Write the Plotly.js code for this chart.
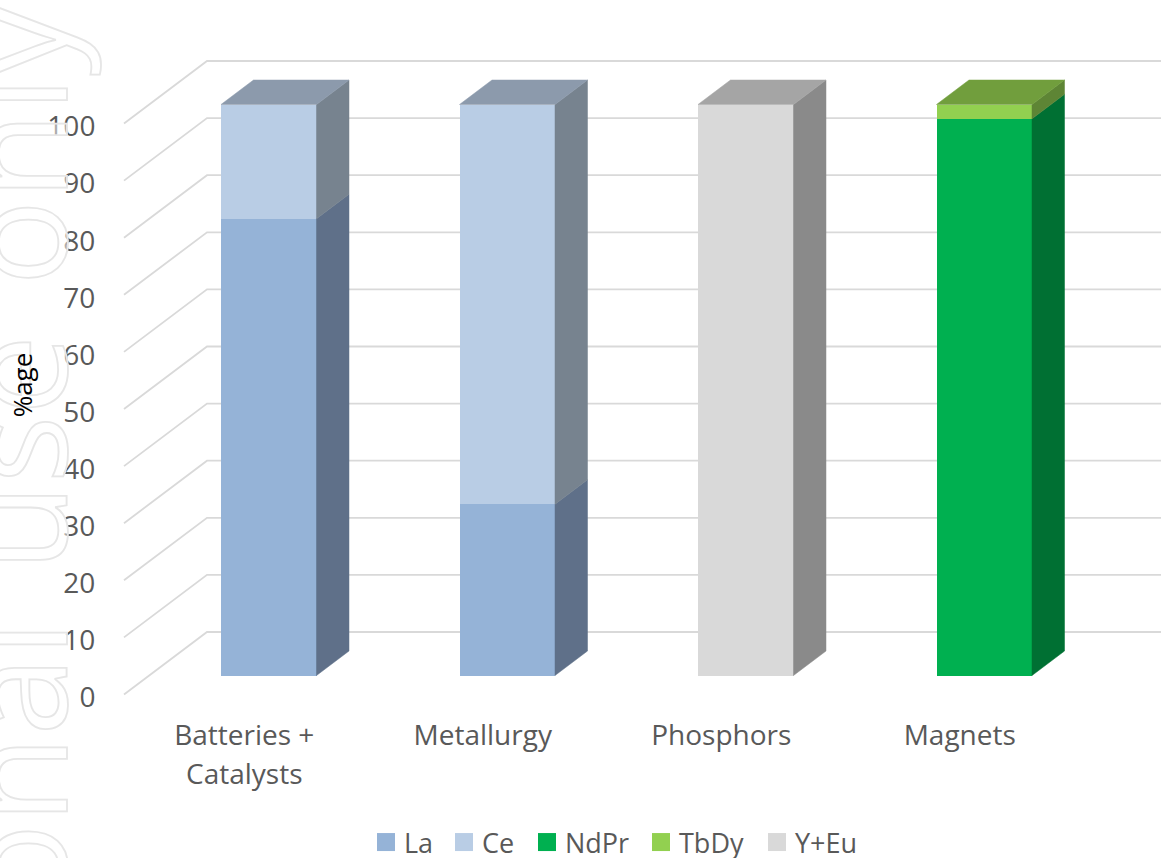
<!DOCTYPE html>
<html>
<head>
<meta charset="utf-8">
<script src="https://cdn.plot.ly/plotly-3.0.1.min.js"></script>
<style>
html,body{margin:0;padding:0;background:#fff;overflow:hidden}
#chart{width:1166px;height:858px}
.annotation[data-index="0"] text{stroke:#e6e6e6;stroke-width:1.8px;word-spacing:12px}
</style>
</head>
<body>
<div id="chart"></div>
<script>
// ---------- data ----------
const categories = ["Batteries +<br>Catalysts", "Metallurgy", "Phosphors", "Magnets"];
const La   = [80, 30, 0, 0];
const Ce   = [20, 70, 0, 0];
const NdPr = [0, 0, 0, 97.5];
const TbDy = [0, 0, 0, 2.5];
const YEu  = [0, 0, 100, 0];
const tickValues = [0, 10, 20, 30, 40, 50, 60, 70, 80, 90, 100];

// ---------- styling ----------
const seriesDefs = [
  {name: "La",   values: La,   front: "#95B3D7", side: "#5F7089", top: "#788CA4"},
  {name: "Ce",   values: Ce,   front: "#B9CDE5", side: "#77838F", top: "#8C9AAC"},
  {name: "NdPr", values: NdPr, front: "#00B050", side: "#007033", top: "#008A3E"},
  {name: "TbDy", values: TbDy, front: "#92D050", side: "#5E8535", top: "#719E3D"},
  {name: "Y+Eu", values: YEu,  front: "#D9D9D9", side: "#8A8A8A", top: "#A5A5A5"}
];

// ---------- geometry of the pseudo-3D projection (pixels -> axis units) ----------
const W = 1166, H = 858, mL = 103, mB = 88;
const pxPerCat = 238.5, pxPerVal = 5.71;
const cat0Px = 244.25;          // pixel of category 0 tick label
const plotBottomPx = H - mB;
const axisLinePx = 700;         // where the category labels hang from
const xOf = px => (px - cat0Px) / pxPerCat;
const labelZeroPx = 694.5;      // value 0 on the label plane
const barZeroPx = 675.5;        // value 0 on the bar front plane
const barOffset = xOf(221) ;    // left edge of bar relative to category
const barWidth = 95.5 / pxPerCat;
const depthX = 32.5 / pxPerCat, depthY = 24.5 / pxPerVal;
const wallDy = (labelZeroPx - 632) / pxPerVal;
const legendSwatchLeft = [377, 455, 538, 652, 768];

const traces = [];
// front faces: stacked bars
seriesDefs.forEach(s => {
  traces.push({
    type: "bar", name: s.name, x: categories.map((_, i) => i), y: s.values,
    xaxis: "x", yaxis: "y2", width: barWidth, offset: barOffset,
    marker: {color: s.front, line: {width: 0}}, legendgroup: s.name,
    hoverinfo: "name+y"
  });
});
// side and top faces, derived from the same values
const cum = categories.map(() => 0);
const highest = categories.map((_, i) => {
  let top = null;
  seriesDefs.forEach((s, k) => { if (s.values[i] > 0) top = k; });
  return top;
});
seriesDefs.forEach((s, k) => {
  const sx = [], sy = [], tx = [], ty = [];
  s.values.forEach((v, i) => {
    if (v <= 0) return;
    const b = cum[i], t = b + v, xl = i + barOffset, xr = xl + barWidth;
    sx.push(xr, xr + depthX, xr + depthX, xr, xr, null);
    sy.push(b, b + depthY, t + depthY, t, b, null);
    if (highest[i] === k) {
      tx.push(xl, xl + depthX, xr + depthX, xr, xl, null);
      ty.push(t, t + depthY, t + depthY, t, t, null);
    }
    cum[i] = t;
  });
  [[sx, sy, s.side], [tx, ty, s.top]].forEach(([px, py, col]) => {
    if (!px.length) return;
    traces.push({
      type: "scatter", mode: "lines", x: px, y: py, xaxis: "x", yaxis: "y2",
      fill: "toself", fillcolor: col, line: {color: col, width: 0.5},
      showlegend: false, hoverinfo: "skip", legendgroup: s.name
    });
  });
});

// gridlines on floor and back wall, below the bars
const gridShapes = tickValues.map(v => ({
  type: "path", layer: "below", xref: "x", yref: "y",
  path: `M ${xOf(124)} ${v} L ${xOf(207)} ${v + wallDy} L ${xOf(1161)} ${v + wallDy}`,
  line: {color: "#D9D9D9", width: 1.8}
}));

const layout = {
  width: W, height: H, showlegend: true, barmode: "stack",
  paper_bgcolor: "#fff", plot_bgcolor: "rgba(0,0,0,0)",
  margin: {l: mL, r: 0, t: 0, b: mB, pad: 0, autoexpand: false},
  font: {family: "'Open Sans', sans-serif", color: "#595959", size: 27},
  xaxis: {
    type: "linear", range: [xOf(mL), xOf(W)], showgrid: false, zeroline: false, showline: false,
    anchor: "free", position: (plotBottomPx - axisLinePx) / plotBottomPx,
    tickmode: "array", tickvals: categories.map((_, i) => i), ticktext: categories,
    ticks: "outside", ticklen: 10, tickcolor: "rgba(0,0,0,0)", tickfont: {size: 28}
  },
  yaxis: {
    range: [(labelZeroPx - plotBottomPx) / pxPerVal, labelZeroPx / pxPerVal],
    tickmode: "array", tickvals: tickValues, showgrid: false, zeroline: false, showline: false,
    ticks: "outside", ticklen: 1, tickcolor: "rgba(0,0,0,0)", tickfont: {size: 28}, ticklabelshift: 3,
    title: {text: "%age", font: {size: 26, color: "#000000"}, standoff: 7}
  },
  yaxis2: {
    overlaying: "y", side: "left", visible: false,
    range: [(barZeroPx - plotBottomPx) / pxPerVal, barZeroPx / pxPerVal]
  },
  legend: {
    orientation: "h", xanchor: "left", yanchor: "top",
    x: (366 - mL) / (W - mL), y: (plotBottomPx - 818) / plotBottomPx,
    font: {size: 27, color: "#595959"}, traceorder: "normal", itemclick: false, itemdoubleclick: false
  },
  shapes: gridShapes,
  annotations: [{
    text: "Personal use only", xref: "paper", yref: "paper", showarrow: false, textangle: -90,
    x: (110 - mL) / (W - mL), xanchor: "right",
    y: (plotBottomPx - 15) / plotBottomPx, yanchor: "top",
    font: {family: "'Open Sans', sans-serif", size: 143, color: "rgba(255,255,255,0.5)"}
  }]
};

Plotly.newPlot("chart", traces, layout, {displayModeBar: false, responsive: false}).then(gd => {
  gd.querySelectorAll(".legendpoints path").forEach(p => {
    p.setAttribute("transform", (p.getAttribute("transform") || "") + " scale(1.5)");
  });
  // space the legend entries as in the reference
  const legendRoot = gd.querySelector(".legend");
  const ox = parseFloat((legendRoot.getAttribute("transform").match(/translate\(([-\d.]+)/) || [0, 0])[1]);
  gd.querySelectorAll(".legend .traces").forEach((t, i) => {
    const m = t.getAttribute("transform").match(/translate\(([-\d.]+)[, ]\s*([-\d.]+)\)/);
    const y = m ? m[2] : 0;
    t.setAttribute("transform", `translate(${legendSwatchLeft[i] - 11 - ox},${y})`);
    const txt = t.querySelector(".legendtext");
    if (txt) txt.setAttribute("x", 38);
  });
  document.querySelectorAll('clipPath[id*="legend"] rect').forEach(r => {
    r.setAttribute("width", 900);
  });
  gd.querySelectorAll(".xtick text tspan.line").forEach(t => {
    if (parseFloat(t.getAttribute("dy")) > 0) t.setAttribute("dy", "1.42em");
  });
  const title = gd.querySelector(".g-ytitle");
  if (title) title.parentNode.appendChild(title);
});
</script>
</body>
</html>
